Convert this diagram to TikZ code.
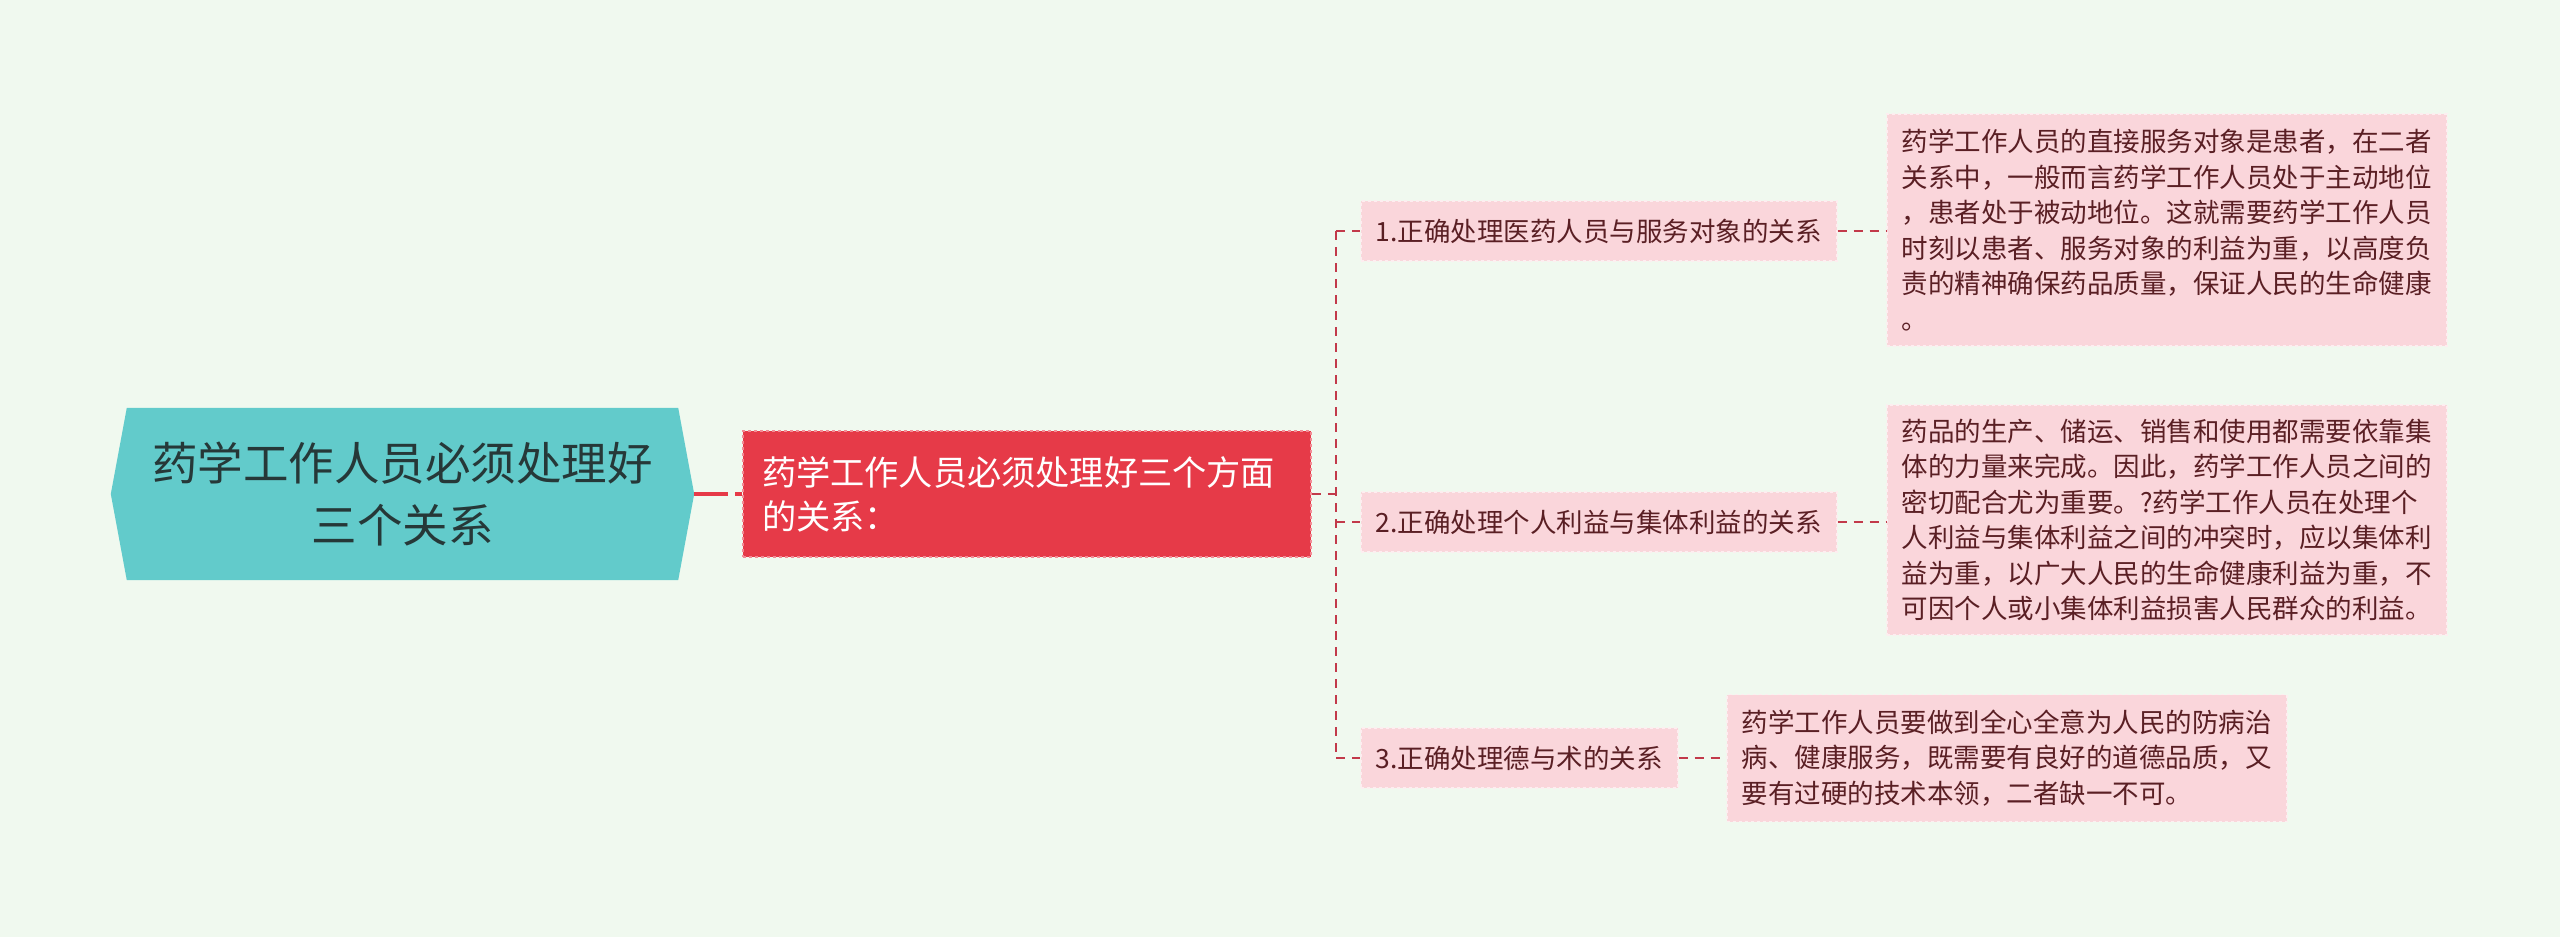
\documentclass[tikz,border=0pt]{standalone}
\usepackage{fontspec}
\newfontfamily\cjk{Noto Sans CJK SC}
\usetikzlibrary{backgrounds}
\definecolor{bg}{HTML}{F0F9EF}
\definecolor{tealc}{HTML}{62CBCB}
\definecolor{redc}{HTML}{E63A48}
\definecolor{redborder}{HTML}{F28C96}
\definecolor{pinkc}{HTML}{FAD6DB}
\definecolor{pinkborder}{HTML}{FDEEF0}
\definecolor{darkt}{HTML}{5A1F24}
\definecolor{linec}{HTML}{C23A4A}
\definecolor{roott}{HTML}{263838}
\begin{document}
\begin{tikzpicture}[x=1pt,y=-1pt,
  rootbox/.style={align=center, font=\cjk\fontsize{45.5}{62}\selectfont, text=roott,
    minimum width=583, minimum height=172, inner sep=0},
  redbox/.style={fill=redc, draw=redborder, dashed, line width=1.5, align=left,
    text width=530, text=white, font=\cjk\fontsize{34.2}{44}\selectfont,
    minimum width=568, minimum height=126, inner xsep=19, inner ysep=0},
  lvtwo/.style={fill=pinkc, draw=pinkborder, dashed, line width=1.5, inner xsep=15,
    inner ysep=0, minimum height=60, font=\cjk\fontsize{26.5}{32}\selectfont,
    text=darkt, anchor=west},
  leafbox/.style={fill=pinkc, draw=pinkborder, dashed, line width=1.5, align=left,
    font=\cjk\fontsize{26.5}{35.5}\selectfont, text=darkt, minimum width=560,
    inner xsep=14, inner ysep=0, anchor=west},
  conn/.style={draw=linec, line width=2, dash pattern=on 9 off 7},
  rootconn/.style={draw=redc, line width=3.5, dash pattern=on 34 off 7 on 8 off 0},
]
\useasboundingbox (0,0) rectangle (2560,937);

\node[rootbox] (root) at (402.5,494) {药学工作人员必须处理好\\三个关系};
\begin{pgfonlayer}{background}
\fill[bg] (0,0) rectangle (2560,937);
\fill[tealc] ([xshift=16]root.north west) -- ([xshift=-16]root.north east) -- (root.east)
  -- ([xshift=-16]root.south east) -- ([xshift=16]root.south west) -- (root.west) -- cycle;
\end{pgfonlayer}

\node[redbox] (mid) at (1027,494) {药学工作人员必须处理好三个方面\\的关系：};

\node[lvtwo] (n1) at (1360,231) {1.正确处理医药人员与服务对象的关系};
\node[lvtwo] (n2) at (1360,522) {2.正确处理个人利益与集体利益的关系};
\node[lvtwo] (n3) at (1360,758) {3.正确处理德与术的关系};

\node[leafbox, minimum height=232] (l1) at (1886,230) {药学工作人员的直接服务对象是患者，在二者\\关系中，一般而言药学工作人员处于主动地位\\，患者处于被动地位。这就需要药学工作人员\\时刻以患者、服务对象的利益为重，以高度负\\责的精神确保药品质量，保证人民的生命健康\\。};
\node[leafbox, minimum height=230] (l2) at (1886,520) {药品的生产、储运、销售和使用都需要依靠集\\体的力量来完成。因此，药学工作人员之间的\\密切配合尤为重要。?药学工作人员在处理个\\人利益与集体利益之间的冲突时，应以集体利\\益为重，以广大人民的生命健康利益为重，不\\可因个人或小集体利益损害人民群众的利益。};
\node[leafbox, minimum height=127] (l3) at (1726,758) {药学工作人员要做到全心全意为人民的防病治\\病、健康服务，既需要有良好的道德品质，又\\要有过硬的技术本领，二者缺一不可。};

\draw[rootconn] (root.east) -- (mid.west);
\coordinate (tr) at (1336,494);
\draw[conn] (mid.east) -- (tr);
\draw[conn] (n1.west -| tr) -- (n3.west -| tr);
\draw[conn] (n1.west -| tr) -- (n1.west);
\draw[conn] (n2.west -| tr) -- (n2.west);
\draw[conn] (n3.west -| tr) -- (n3.west);
\draw[conn] (n1.east) -- (n1.east -| l1.west);
\draw[conn] (n2.east) -- (n2.east -| l2.west);
\draw[conn] (n3.east) -- (n3.east -| l3.west);
\end{tikzpicture}
\end{document}
